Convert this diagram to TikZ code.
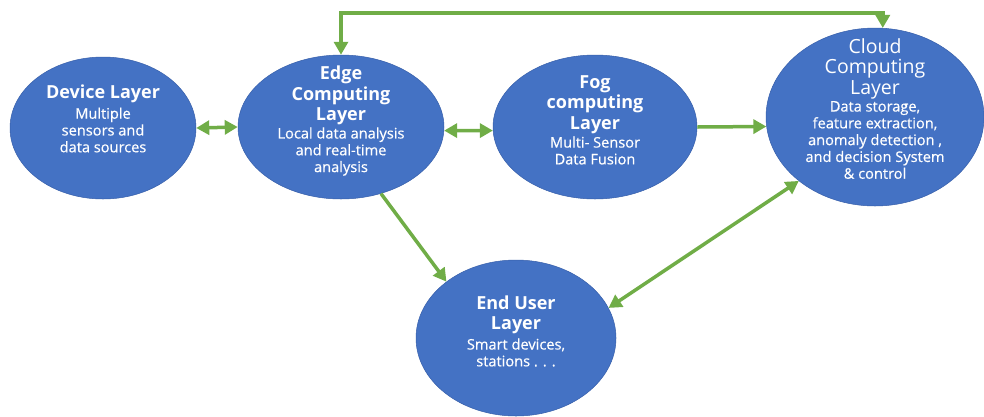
\documentclass[tikz,border=0pt]{standalone}
\usepackage{fontspec}
\setmainfont{Open Sans}
\newfontfamily\bodyfont[FakeBold=0.5]{Open Sans}
\usetikzlibrary{arrows.meta,shapes.geometric}
\definecolor{nodeblue}{RGB}{68,114,196}
\definecolor{nodeedge}{RGB}{55,95,170}
\definecolor{arrgreen}{RGB}{112,173,71}
\begin{document}
\begin{tikzpicture}[x=1pt,y=-1pt,
  ell/.style={ellipse,fill=nodeblue,draw=nodeedge,line width=0.5pt,inner sep=0pt},
  ttl/.style={text=white,align=center,inner sep=0pt,font=\bfseries\fontsize{18}{20.5}\selectfont},
  ttlr/.style={text=white,align=center,inner sep=0pt,font=\fontsize{19.5}{20.5}\selectfont},
  bdy/.style={text=white,align=center,inner sep=0pt,font=\bodyfont\fontsize{14.6}{16.8}\selectfont},
  conn/.style={draw=arrgreen,line width=3.5pt,arrows={-Triangle[length=13pt,width=14pt]}},
  conn2/.style={draw=arrgreen,line width=3.5pt,arrows={Triangle[length=13pt,width=14pt]-Triangle[length=13pt,width=14pt]}}]
\useasboundingbox (0,0) rectangle (984,416);
% ellipses
\node[ell,minimum width=186pt,minimum height=142pt] (dev) at (103,128) {};
\node[ell,minimum width=206pt,minimum height=144pt] (edge) at (341,127) {};
\node[ell,minimum width=204pt,minimum height=144pt] (fog) at (595,127) {};
\node[ell,minimum width=218pt,minimum height=178pt] (cloud) at (875,117) {};
\node[ell,minimum width=200pt,minimum height=156pt] (end) at (516,338) {};
% texts
\node[ttl] (devT) at (103,94) {Device Layer};
\node[bdy] (devB) at (103,130) {Multiple\\sensors and\\data sources};
\node[ttl] (edgeT) at (341,95.5) {Edge\\Computing\\Layer};
\node[bdy] (edgeB) at (341,151.5) {Local data analysis\\and real-time\\analysis};
\node[ttl] (fogT) at (595,104.5) {Fog\\computing\\Layer};
\node[bdy] (fogB) at (595,150.5) {Multi- Sensor\\Data Fusion};
\node[ttlr] (cloudT) at (875,68.5) {Cloud\\Computing\\Layer};
\node[bdy] (cloudB) at (875,140) {Data storage,\\feature extraction,\\anomaly detection ,\\and decision System\\\& control};
\node[ttl] (endT) at (516,315) {End User\\Layer};
\node[bdy] (endB) at (516,352.5) {Smart devices,\\stations . . .};
% connectors
\coordinate (top) at (0,13);
\draw[conn2] (dev.0) -- (edge.180);
\draw[conn2] (edge.-2.3) -- (fog.182.3);
\draw[conn] (fog.0) -- (cloud.185.3);
\draw[conn2] (edge.north) -- (edge.north |- top) -| (cloud.85.5);
\draw[conn] (edge.-59) -- (end.141);
\draw[conn2] (end.18.6) -- (cloud.220.2);
\end{tikzpicture}
\end{document}
